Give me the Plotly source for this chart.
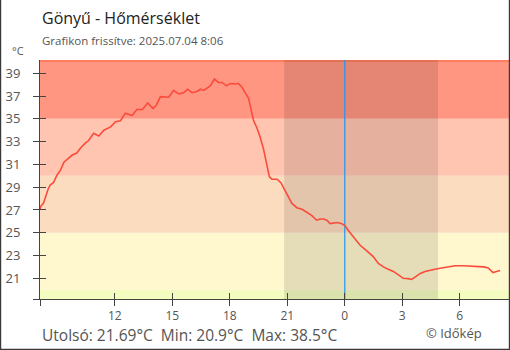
import plotly.graph_objects as go

# ---- data ----
times = [
    "2025-07-03 08:06", "2025-07-03 08:08", "2025-07-03 08:17", "2025-07-03 08:23", "2025-07-03 08:31",
    "2025-07-03 08:38", "2025-07-03 08:48", "2025-07-03 08:59", "2025-07-03 09:10", "2025-07-03 09:21",
    "2025-07-03 09:35", "2025-07-03 09:46", "2025-07-03 10:01", "2025-07-03 10:13", "2025-07-03 10:27",
    "2025-07-03 10:38", "2025-07-03 10:54", "2025-07-03 11:10", "2025-07-03 11:26", "2025-07-03 11:47",
    "2025-07-03 12:02", "2025-07-03 12:18", "2025-07-03 12:33", "2025-07-03 12:54", "2025-07-03 13:10",
    "2025-07-03 13:26", "2025-07-03 13:43", "2025-07-03 14:00", "2025-07-03 14:10", "2025-07-03 14:23",
    "2025-07-03 14:49", "2025-07-03 15:04", "2025-07-03 15:20", "2025-07-03 15:36", "2025-07-03 15:48",
    "2025-07-03 16:02", "2025-07-03 16:17", "2025-07-03 16:28", "2025-07-03 16:38", "2025-07-03 16:49",
    "2025-07-03 16:59", "2025-07-03 17:12", "2025-07-03 17:25", "2025-07-03 17:36", "2025-07-03 17:49",
    "2025-07-03 18:02", "2025-07-03 18:17", "2025-07-03 18:27", "2025-07-03 18:38", "2025-07-03 18:48",
    "2025-07-03 18:59", "2025-07-03 19:06", "2025-07-03 19:14", "2025-07-03 19:25", "2025-07-03 19:35",
    "2025-07-03 19:46", "2025-07-03 19:56", "2025-07-03 20:04", "2025-07-03 20:12", "2025-07-03 20:28",
    "2025-07-03 20:40", "2025-07-03 20:53", "2025-07-03 21:04", "2025-07-03 21:14", "2025-07-03 21:30",
    "2025-07-03 21:46", "2025-07-03 22:01", "2025-07-03 22:17", "2025-07-03 22:32", "2025-07-03 22:43",
    "2025-07-03 22:53", "2025-07-03 23:04", "2025-07-03 23:14", "2025-07-03 23:24", "2025-07-03 23:37",
    "2025-07-03 23:51", "2025-07-04 00:01", "2025-07-04 00:11", "2025-07-04 00:27", "2025-07-04 00:48",
    "2025-07-04 01:09", "2025-07-04 01:29", "2025-07-04 01:45", "2025-07-04 02:01", "2025-07-04 02:16",
    "2025-07-04 02:32", "2025-07-04 02:48", "2025-07-04 03:03", "2025-07-04 03:19", "2025-07-04 03:29",
    "2025-07-04 03:40", "2025-07-04 03:55", "2025-07-04 04:11", "2025-07-04 04:27", "2025-07-04 04:42",
    "2025-07-04 05:03", "2025-07-04 05:24", "2025-07-04 05:45", "2025-07-04 06:11", "2025-07-04 06:32",
    "2025-07-04 06:53", "2025-07-04 07:15", "2025-07-04 07:29", "2025-07-04 07:44", "2025-07-04 07:55",
    "2025-07-04 08:06",
]
temps = [
    27.06, 27.3, 27.6, 28.2, 28.8,
    29.2, 29.4, 30.05, 30.5, 31.2,
    31.5, 31.8, 32.0, 32.45, 32.85,
    33.1, 33.73, 33.5, 34.0, 34.3,
    34.75, 34.84, 35.5, 35.3, 35.84,
    35.8, 36.4, 35.9, 36.2, 36.95,
    36.9, 37.5, 37.2, 37.3, 37.6,
    37.3, 37.4, 37.6, 37.5, 37.7,
    37.9, 38.5, 38.2, 38.2, 37.9,
    38.1, 38.06, 38.1, 37.8, 37.3,
    36.8, 35.9, 34.9, 34.2, 33.4,
    32.3, 30.9, 29.9, 29.7, 29.7,
    29.4, 28.75, 28.2, 27.6, 27.2,
    27.06, 26.8, 26.5, 26.1, 26.2,
    26.2, 26.1, 25.8, 25.85, 25.9,
    25.8, 25.6, 25.2, 24.6, 23.9,
    23.4, 22.9, 22.3, 22.0, 21.8,
    21.6, 21.3, 21.0, 20.97, 20.9,
    21.1, 21.4, 21.6, 21.67, 21.8,
    21.9, 22.0, 22.1, 22.1, 22.08,
    22.0, 22.0, 21.9, 21.5, 21.6,
    21.69,
]

x_range = ["2025-07-03 08:06", "2025-07-04 08:34"]
y_range = [19.18, 40.17]

x_tickvals = ["2025-07-03 08:06", "2025-07-03 12:00", "2025-07-03 15:00", "2025-07-03 18:00",
              "2025-07-03 21:00", "2025-07-04 00:00", "2025-07-04 03:00", "2025-07-04 06:00"]
x_ticktext = ["", "12", "15", "18", "21", "0", "3", "6"]
y_tickvals = [19.18, 21, 23, 25, 27, 29, 31, 33, 35, 37, 39]
y_ticktext = ["", "21", "23", "25", "27", "29", "31", "33", "35", "37", "39"]

band_edges = [19.18, 20, 25, 30, 35, 40, 40.17]
band_colors = ["#f4fcc0", "#fff7cd", "#fcdcbf", "#ffc5b0", "#ff9682", "#ff7d5e"]

night_start = "2025-07-03 20:50"
night_end = "2025-07-04 04:52"
midnight = "2025-07-04 00:00"

title = "Gönyű - Hőmérséklet"
subtitle = "Grafikon frissítve: 2025.07.04 8:06"
stats = "Utolsó: 21.69°C  Min: 20.9°C  Max: 38.5°C"
credit = "© Időkép"
unit = "°C"

FONT = "Open Sans"
GREY = "#555555"
AX = "#444444"

fig = go.Figure()
fig.add_trace(go.Scatter(x=times, y=temps, mode="lines",
                         line=dict(color="#fa4b3c", width=1.6),
                         showlegend=False, hoverinfo="skip"))
fig.add_trace(go.Scatter(x=[], y=[], xaxis="x2", yaxis="y2", showlegend=False, hoverinfo="skip"))

shapes = []
for i, c in enumerate(band_colors):
    shapes.append(dict(type="rect", xref="paper", yref="y", x0=0, x1=1,
                       y0=band_edges[i], y1=band_edges[i + 1],
                       fillcolor=c, line=dict(width=0), layer="below"))
shapes.append(dict(type="rect", xref="x", yref="paper", x0=night_start, x1=night_end,
                   y0=0, y1=1, fillcolor="rgba(0,0,0,0.1)", line=dict(width=0), layer="below"))
shapes.append(dict(type="line", xref="x", yref="paper", x0=midnight, x1=midnight,
                   y0=0, y1=1, line=dict(color="#2196f3", width=1.2), layer="below"))

# outer frame (left, right, bottom)
W, L, R = 510, 40, 1
H, T, B = 350, 60, 51
pw, ph = W - L - R, H - T - B
def px(x):
    return (x - L) / pw
def py(y):
    return (H - B - y) / ph
frame = dict(color="#3a3a3a", width=1.2)
shapes.append(dict(type="line", xref="paper", yref="paper", x0=px(0.6), x1=px(0.6), y0=py(350), y1=py(0), line=frame))
shapes.append(dict(type="line", xref="paper", yref="paper", x0=px(509.4), x1=px(509.4), y0=py(350), y1=py(0), line=frame))
shapes.append(dict(type="line", xref="paper", yref="paper", x0=px(0), x1=px(510), y0=py(349.4), y1=py(349.4), line=frame))

annotations = [
    dict(text=title, xref="paper", yref="paper", x=px(40), y=py(18), xanchor="left", yanchor="middle",
         showarrow=False, font=dict(family=FONT, size=16, color="#222222")),
    dict(text=subtitle, xref="paper", yref="paper", x=px(40), y=py(41), xanchor="left", yanchor="middle",
         showarrow=False, font=dict(family=FONT, size=11.5, color=GREY)),
    dict(text=unit, xref="paper", yref="paper", x=px(18), y=py(51), xanchor="center", yanchor="middle",
         showarrow=False, font=dict(family=FONT, size=11, color=GREY)),
    dict(text=stats, xref="paper", yref="paper", x=px(40), y=py(334.5), xanchor="left", yanchor="middle",
         showarrow=False, font=dict(family=FONT, size=15.5, color=GREY)),
    dict(text=credit, xref="paper", yref="paper", x=px(453.5), y=py(333), xanchor="center", yanchor="middle",
         showarrow=False, font=dict(family=FONT, size=13, color=GREY)),
]

fig.update_layout(
    width=W, height=H,
    margin=dict(l=L, r=R, t=T, b=B, pad=0),
    paper_bgcolor="white", plot_bgcolor="white",
    shapes=shapes, annotations=annotations,
    xaxis=dict(type="date", range=x_range, tickvals=x_tickvals, ticktext=x_ticktext,
               showgrid=False, zeroline=False, showline=True, linecolor=AX, linewidth=1,
               ticks="outside", ticklen=6, tickcolor=AX, tickwidth=1,
               tickfont=dict(family=FONT, size=12, color=GREY), fixedrange=True),
    yaxis=dict(range=y_range, tickvals=y_tickvals, ticktext=y_ticktext,
               showgrid=False, zeroline=False, showline=True, linecolor=AX, linewidth=1,
               ticks="outside", ticklen=6, tickcolor=AX, tickwidth=1, ticklabelstandoff=10,
               tickfont=dict(family=FONT, size=13, color=GREY), fixedrange=True),
    xaxis2=dict(type="date", range=x_range, tickvals=x_tickvals, overlaying="x", anchor="y2",
                showgrid=False, zeroline=False, showline=False, showticklabels=False,
                ticks="inside", ticklen=6, tickcolor=AX, tickwidth=1),
    yaxis2=dict(range=y_range, tickvals=y_tickvals, overlaying="y", anchor="x2", side="left",
                showgrid=False, zeroline=False, showline=False, showticklabels=False,
                ticks="inside", ticklen=6, tickcolor=AX, tickwidth=1),
)

fig.write_html("out.html")
